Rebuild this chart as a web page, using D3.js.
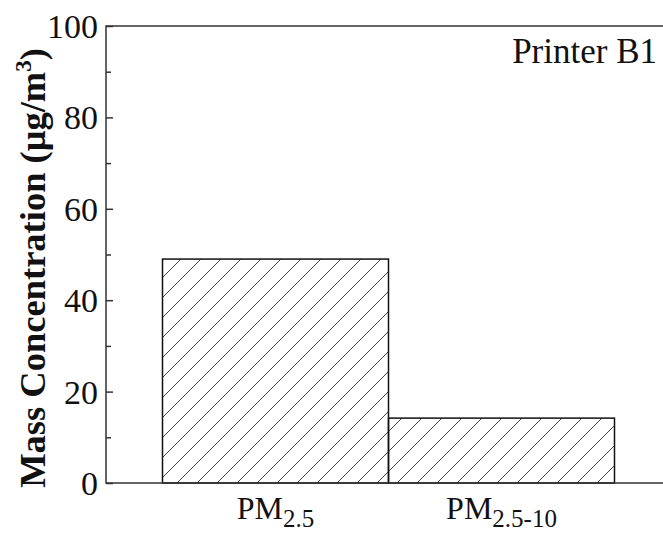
<!DOCTYPE html>
<html>
<head>
<meta charset="utf-8">
<script src="https://cdn.jsdelivr.net/npm/d3@7"></script>
<style>
  body { margin: 0; background: #fff; }
  svg { display: block; font-family: "Liberation Serif", "Times New Roman", serif; }
</style>
</head>
<body>
<svg width="663" height="535"></svg>
<script>
// data
const categories = ["PM2.5", "PM2.5-10"];
const values = [49.0, 14.2];
const yTicks = [0, 20, 40, 60, 80, 100];
const yMinorTicks = [10, 30, 50, 70, 90];

const svg = d3.select("svg");
const margin = { left: 106, top: 26, right: -8, bottom: 52 };
const width = 663, height = 535;

const x = d3.scaleBand()
  .domain(categories)
  .range([margin.left, width - margin.right])
  .paddingInner(0)
  .paddingOuter(0.25);

const y = d3.scaleLinear().domain([0, 100]).range([height - margin.bottom, margin.top]);

// hatch pattern
const defs = svg.append("defs");
const pat = defs.append("pattern")
  .attr("id", "hatch")
  .attr("patternUnits", "userSpaceOnUse")
  .attr("width", 20).attr("height", 20);
pat.append("path")
  .attr("d", "M-5,5 L5,-5 M0,20 L20,0 M15,25 L25,15")
  .attr("stroke", "#444").attr("stroke-width", 1);

// bars
svg.append("g")
  .selectAll("rect")
  .data(values)
  .join("rect")
  .attr("x", (d, i) => x(categories[i]))
  .attr("y", d => y(d))
  .attr("width", x.bandwidth())
  .attr("height", d => y(0) - y(d))
  .attr("fill", "url(#hatch)")
  .attr("stroke", "#111")
  .attr("stroke-width", 1.5);

// frame
svg.append("rect")
  .attr("x", margin.left).attr("y", margin.top)
  .attr("width", width - margin.right - margin.left)
  .attr("height", y(0) - margin.top)
  .attr("fill", "none").attr("stroke", "#333").attr("stroke-width", 1.5);

// y axis (ticks inward)
const yAxis = svg.append("g")
  .attr("transform", `translate(${margin.left},0)`)
  .call(d3.axisRight(y).tickValues(yTicks).tickSize(7).tickFormat(""));
yAxis.select(".domain").remove();
yAxis.selectAll("line").attr("stroke", "#333").attr("stroke-width", 1.5);

const yMinor = svg.append("g")
  .attr("transform", `translate(${margin.left},0)`)
  .call(d3.axisRight(y).tickValues(yMinorTicks).tickSize(5).tickFormat(""));
yMinor.select(".domain").remove();
yMinor.selectAll("line").attr("stroke", "#333").attr("stroke-width", 1.5);

svg.append("g")
  .selectAll("text")
  .data(yTicks)
  .join("text")
  .attr("x", margin.left - 8)
  .attr("y", d => y(d))
  .attr("dy", "0.35em")
  .attr("text-anchor", "end")
  .attr("font-size", 34)
  .attr("fill", "#111")
  .text(d => d);

// x labels with subscripts
const xl = svg.append("g")
  .selectAll("text")
  .data(categories)
  .join("text")
  .attr("x", d => x(d) + x.bandwidth() / 2)
  .attr("y", 519)
  .attr("text-anchor", "middle")
  .attr("font-size", 32)
  .attr("fill", "#111");
xl.append("tspan").text("PM");
xl.append("tspan").attr("font-size", 25).attr("dy", 8).text(d => d.slice(2));

// y title
const yt = svg.append("text")
  .attr("transform", `translate(45,268) rotate(-90)`)
  .attr("text-anchor", "middle")
  .attr("font-size", 36.5)
  .attr("font-weight", "bold")
  .attr("fill", "#111");
yt.append("tspan").text("Mass Concentration (\u03bcg/m");
yt.append("tspan").attr("font-size", 23).attr("dy", -14).text("3");
yt.append("tspan").attr("dy", 14).text(")");

// annotation
svg.append("text")
  .attr("x", 657).attr("y", 63)
  .attr("text-anchor", "end")
  .attr("font-size", 35)
  .attr("fill", "#111")
  .text("Printer B1");
</script>
</body>
</html>
